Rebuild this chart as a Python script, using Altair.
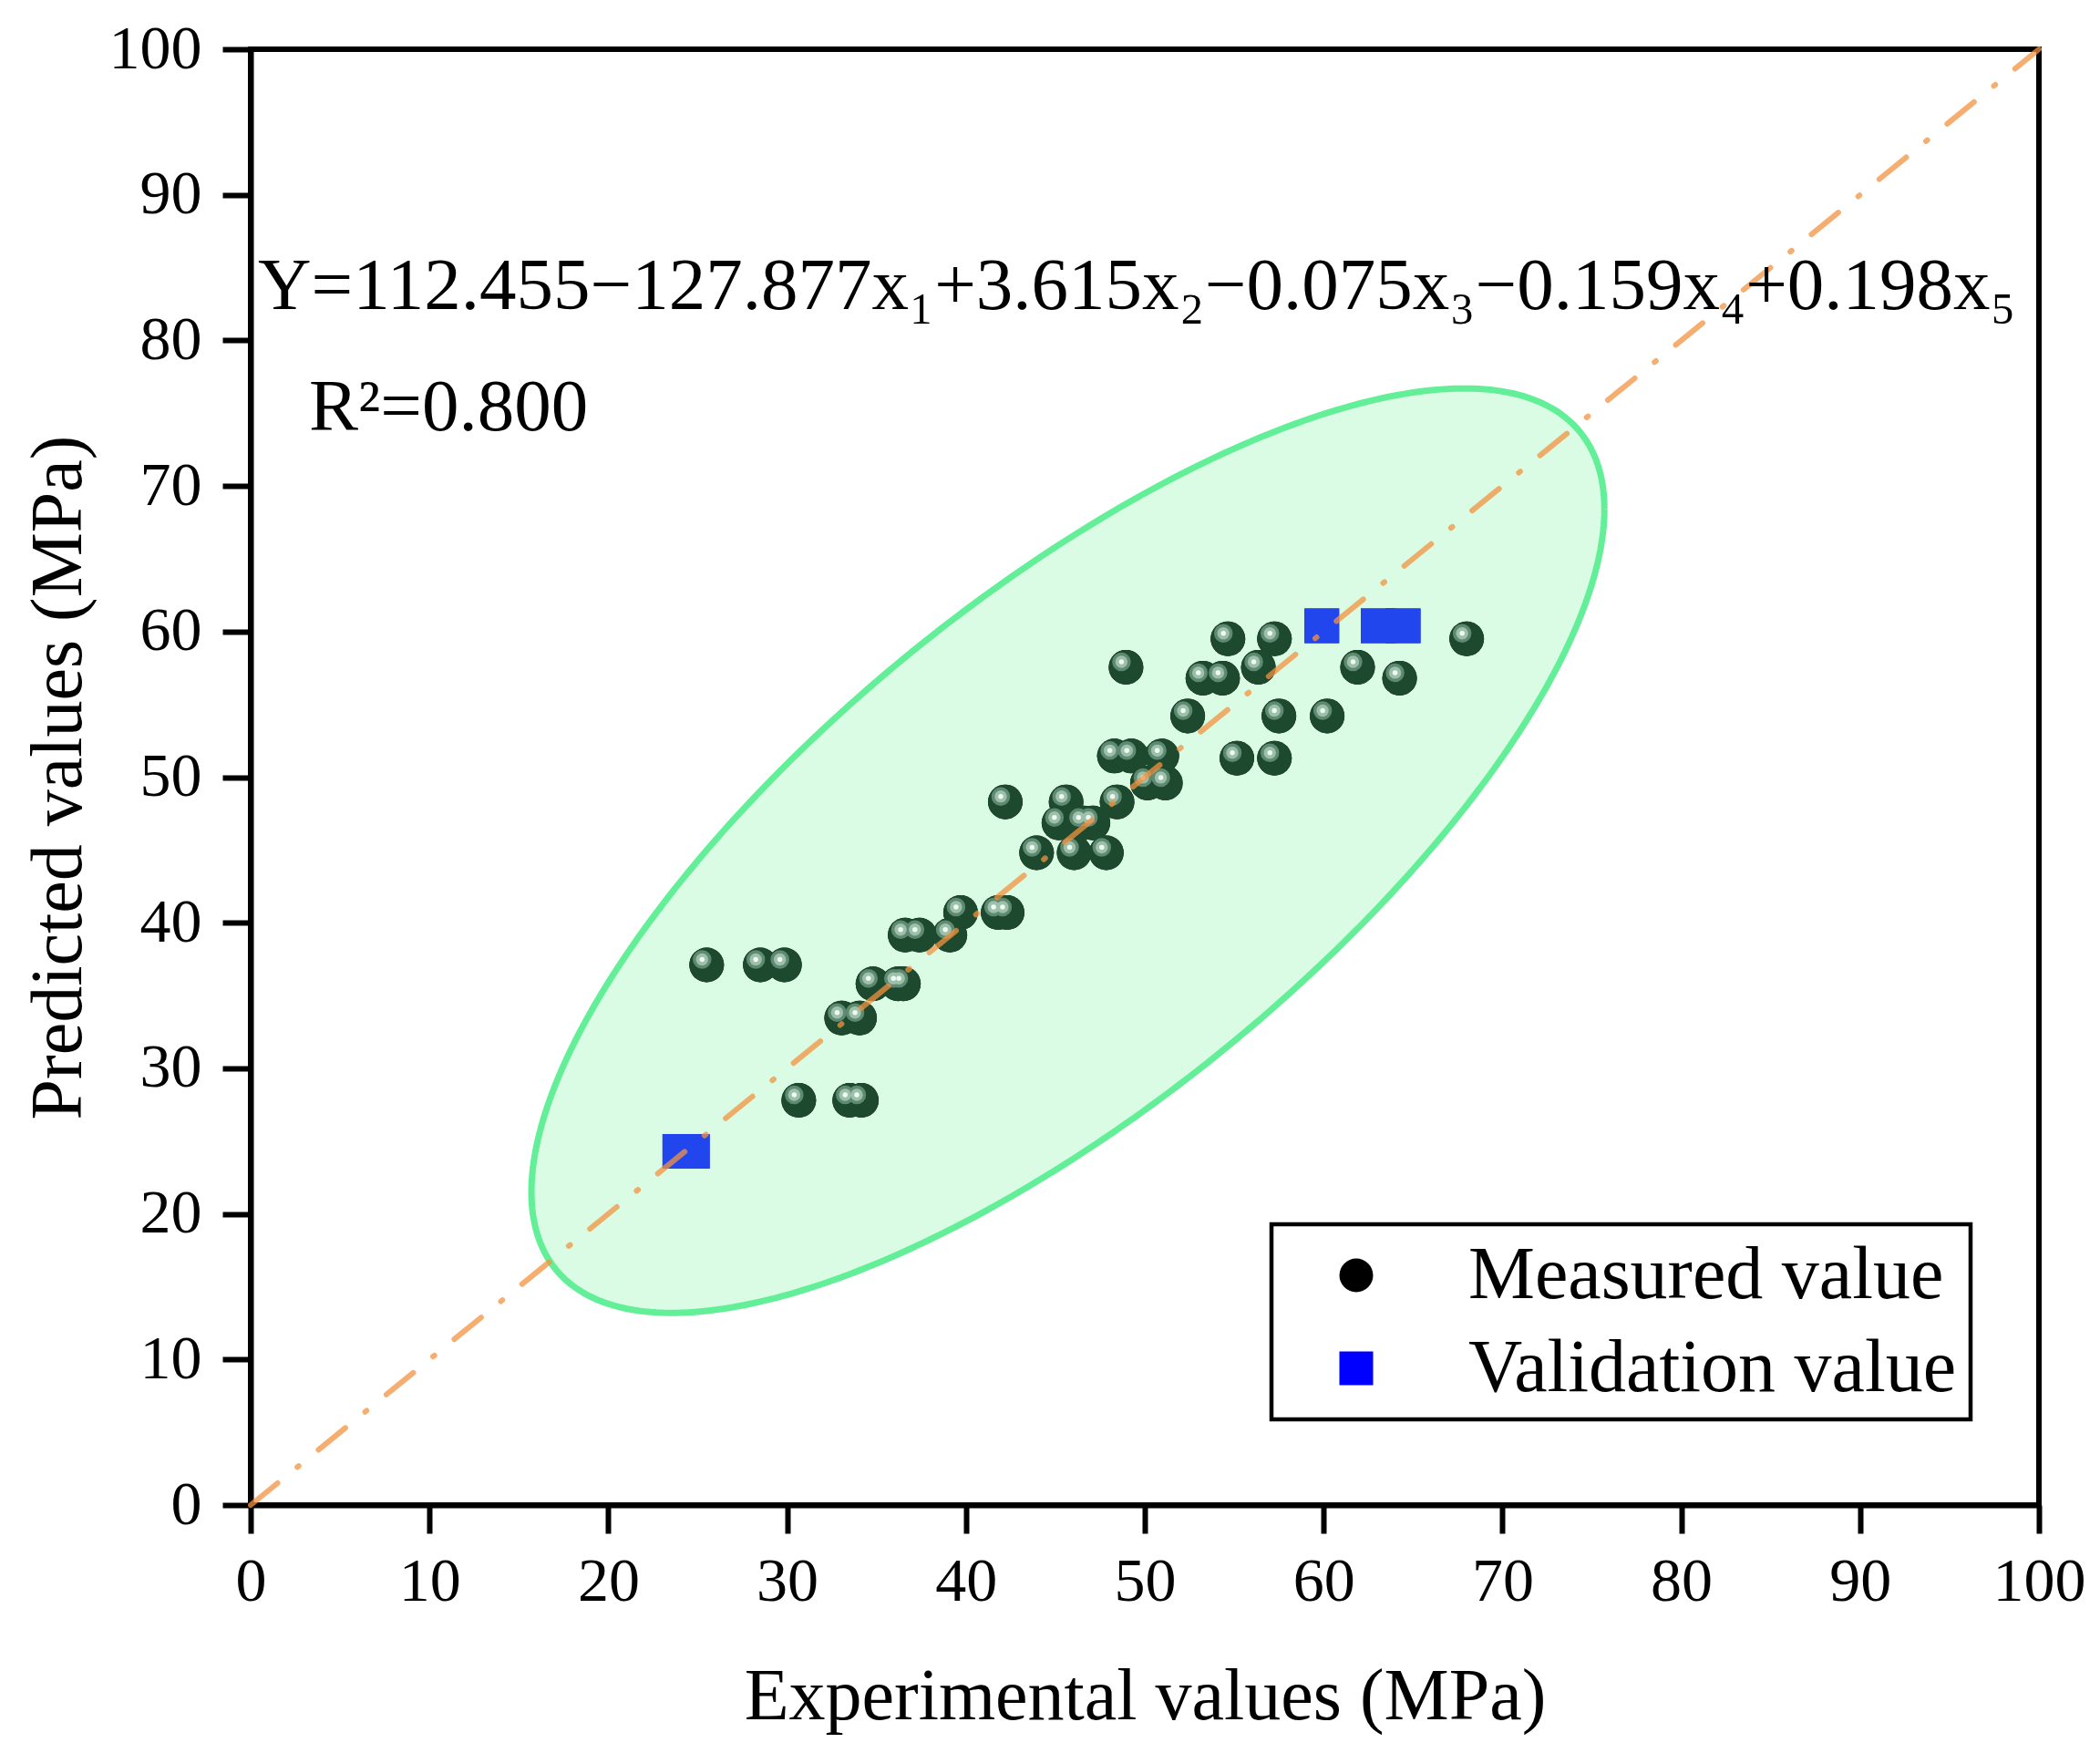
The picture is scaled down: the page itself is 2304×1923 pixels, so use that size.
import altair as alt
import numpy as np
import pandas as pd

# ---------------- data ----------------
meas_x = [25.5, 28.5, 29.85,
          30.65, 33.5, 34.15,
          33.05, 34.05,
          34.8, 36.2, 36.5,
          36.6, 37.4, 39.1,
          39.7, 41.8, 42.3,
          43.95, 46.05, 47.85,
          45.2, 46.55, 47.1,
          42.2, 45.6, 48.45,
          50.15, 51.15,
          48.3, 49.25, 50.95,
          55.15, 57.25,
          52.4, 57.5, 60.2,
          53.25, 54.35, 64.25,
          48.95, 56.35, 61.9,
          54.65, 57.25, 68.0,
          24.15]
meas_y = [37.1, 37.1, 37.1,
          27.8, 27.8, 27.8,
          33.45, 33.45,
          35.8, 35.8, 35.8,
          39.15, 39.15, 39.15,
          40.7, 40.7, 40.7,
          44.8, 44.8, 44.8,
          46.85, 46.85, 46.85,
          48.3, 48.3, 48.3,
          49.6, 49.6,
          51.45, 51.45, 51.45,
          51.3, 51.3,
          54.2, 54.2, 54.2,
          56.8, 56.8, 56.8,
          57.55, 57.55, 57.55,
          59.5, 59.5, 59.5,
          24.3]
val_x = [24.0, 24.7, 59.9, 63.05, 64.45]
val_y = [24.3, 24.3, 60.4, 60.4, 60.4]

series_names = ["Measured value", "Validation value"]
diag_x = [0, 100]
diag_y = [0, 100]
tick_values = list(range(0, 101, 10))

equation = "Y=112.455\u2212127.877x\u2081+3.615x\u2082\u22120.075x\u2083\u22120.159x\u2084+0.198x\u2085"
r2_text = "R\u00b2=0.800"

# confidence ellipse (centre and covariance-like shape matrix)
ell_cx, ell_cy = 45.7, 44.95
ell_sxx, ell_syy, ell_sxy = 900.0, 1008.0, 703.5

# ---------------- build tables ----------------
pts = pd.DataFrame({
    "x": meas_x + val_x,
    "y": meas_y + val_y,
    "type": [series_names[0]] * len(meas_x) + [series_names[1]] * len(val_x),
})
meas = pts[pts["type"] == series_names[0]]
val = pts[pts["type"] == series_names[1]]

l11 = np.sqrt(ell_sxx)
l21 = ell_sxy / l11
l22 = np.sqrt(ell_syy - l21 ** 2)
t = np.linspace(0, 2 * np.pi, 361)
ell_line = pd.DataFrame({
    "x": ell_cx + l11 * np.cos(t),
    "y": ell_cy + l21 * np.cos(t) + l22 * np.sin(t),
    "o": np.arange(len(t)),
})
c = np.cos(np.linspace(np.pi, 0, 301))
s = np.sqrt(np.clip(1 - c ** 2, 0, None))
ell_area = pd.DataFrame({
    "x": ell_cx + l11 * c,
    "y": ell_cy + l21 * c - l22 * s,
    "y2": ell_cy + l21 * c + l22 * s,
})
diag = pd.DataFrame({"x": diag_x, "y": diag_y})
notes = pd.DataFrame({"x": [0.41], "y": [82.15], "t": [equation]})
notes2 = pd.DataFrame({"x": [3.26], "y": [73.8], "t": [r2_text]})

FONT = "Liberation Serif"
xs = alt.Scale(domain=[0, 100], nice=False, zero=True)
ys = alt.Scale(domain=[0, 100], nice=False, zero=True)

x_axis = alt.Axis(values=tick_values, tickSize=31, tickWidth=6, domainWidth=6,
                  domainColor="black", tickColor="black", labelFontSize=68,
                  labelFont=FONT, labelPadding=19, labelFlush=False, labelColor="black",
                  grid=False, title="Experimental values (MPa)", titleFontSize=80,
                  titleFont=FONT, titleFontWeight="normal", titleColor="black",
                  titleX=981, titleY=234, titleBaseline="alphabetic", labelOverlap=False)
y_axis = alt.Axis(values=tick_values, tickSize=31, tickWidth=6, domainWidth=6,
                  domainColor="black", tickColor="black", labelFontSize=68,
                  labelFont=FONT, labelPadding=23, labelColor="black",
                  grid=False, title="Predicted values (MPa)", titleFontSize=80,
                  titleFont=FONT, titleFontWeight="normal", titleColor="black",
                  titleX=-211, titleY=798.5, titleAngle=270, titleBaseline="middle",
                  labelOverlap=False)

X = alt.X("x:Q", scale=xs, axis=x_axis)
Y = alt.Y("y:Q", scale=ys, axis=y_axis)

area = alt.Chart(ell_area).mark_area(color="#dafce4", opacity=1).encode(
    x=X, y=Y, y2="y2:Q")
ring = alt.Chart(ell_line).mark_line(color="#62ef98", strokeWidth=7).encode(
    x=X, y=Y, order="o:Q")

base = alt.Chart(pts).mark_point(filled=True, opacity=1, size=1444, strokeWidth=0).encode(
    x=X, y=Y,
    color=alt.Color("type:N", scale=alt.Scale(domain=series_names, range=["#000000", "#0000ff"]),
                    legend=alt.Legend(title=None, orient="none", legendX=1120, legendY=1289,
                                      padding=15, symbolOffset=37, labelOffset=82,
                                      rowPadding=20, labelFontSize=82, labelFont=FONT,
                                      labelColor="black", symbolSize=1369, labelLimit=1000,
                                      strokeColor="black", fillColor="white",
                                      symbolStrokeWidth=0)),
    shape=alt.Shape("type:N", scale=alt.Scale(domain=series_names, range=["circle", "square"])),
)
green = alt.Chart(meas).mark_point(filled=True, shape="circle", size=1444, color="#1d4a2f",
                                   opacity=1, strokeWidth=0).encode(x=X, y=Y)
hl1 = alt.Chart(meas).mark_point(filled=True, shape="circle", size=420, color="#5f8a72",
                                 opacity=1, strokeWidth=0, xOffset=-5, yOffset=-6).encode(x=X, y=Y)
hl2 = alt.Chart(meas).mark_point(filled=True, shape="circle", size=180, color="#9dc0ab",
                                 opacity=1, strokeWidth=0, xOffset=-5, yOffset=-6).encode(x=X, y=Y)
hl3 = alt.Chart(meas).mark_point(filled=True, shape="circle", size=30, color="#eef9f2",
                                 opacity=1, strokeWidth=0, xOffset=-5, yOffset=-6).encode(x=X, y=Y)
vsq = alt.Chart(val).mark_point(filled=True, shape="square", size=1444, color="#2146ee",
                                opacity=1, strokeWidth=0).encode(x=X, y=Y)
line = alt.Chart(diag).mark_line(color="#f39340", strokeWidth=6, opacity=0.75,
                                 strokeDash=[38, 28, 2, 28], strokeCap="round").encode(x=X, y=Y)
eq = alt.Chart(notes).mark_text(align="left", baseline="alphabetic", fontSize=81, font=FONT,
                                color="black").encode(x=X, y=Y, text="t:N")
r2 = alt.Chart(notes2).mark_text(align="left", baseline="alphabetic", fontSize=81, font=FONT,
                                 color="black").encode(x=X, y=Y, text="t:N")

chart = alt.layer(area, ring, base, green, hl1, hl2, hl3, vsq, line, eq, r2).properties(
    width=1962, height=1597,
    autosize=alt.AutoSizeParams(type="none"),
    padding={"left": 267, "top": 46, "right": 59, "bottom": 264},
    background="white",
).configure_view(stroke="black", strokeWidth=6).configure_legend(strokeWidth=4.5)

chart.save("out.html", embed_options={"renderer": "svg", "actions": False})
